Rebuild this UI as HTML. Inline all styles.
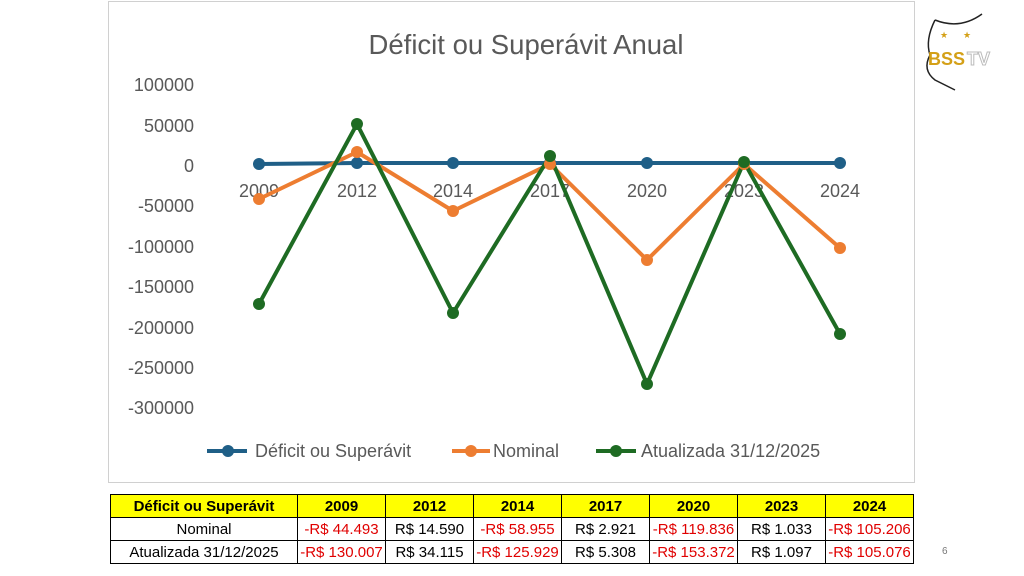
<!DOCTYPE html><html><head><meta charset="utf-8"><style>
body{margin:0;width:1024px;height:576px;background:#fff;position:relative;font-family:"Liberation Sans",sans-serif;overflow:hidden}
table{position:absolute;left:110px;top:494px;border-collapse:collapse;font-size:15px}
td{border:1.5px solid #000;text-align:center;padding:0;height:22px;white-space:nowrap}
.h td{background:#ffff00;font-weight:bold}
.r{color:#e00000}
</style></head><body>
<svg width="1024" height="576" style="position:absolute;left:0;top:0" font-family="Liberation Sans, sans-serif">
<rect x="108.5" y="1.5" width="806" height="481" fill="#fff" stroke="#d0d0d0"/>
<text x="526" y="54" font-size="27.5" fill="#595959" text-anchor="middle">Déficit ou Superávit Anual</text>
<g font-size="18" fill="#595959" text-anchor="end">
<text x="194" y="91">100000</text><text x="194" y="132">50000</text><text x="194" y="172">0</text>
<text x="194" y="212">-50000</text><text x="194" y="253">-100000</text><text x="194" y="293">-150000</text>
<text x="194" y="334">-200000</text><text x="194" y="374">-250000</text><text x="194" y="414">-300000</text></g>
<g font-size="18" fill="#595959" text-anchor="middle">
<text x="259" y="197">2009</text><text x="357" y="197">2012</text><text x="453" y="197">2014</text><text x="550" y="197">2017</text><text x="647" y="197">2020</text><text x="744" y="197">2023</text><text x="840" y="197">2024</text></g>
<g stroke-width="4" fill="none" stroke-linejoin="round">
<polyline stroke="#1f5f87" points="259,164 357,163 453,163 550,163 647,163 744,163 840,163"/>
<polyline stroke="#ed7d31" points="259,199 357,152 453,211 550,164 647,260 744,164 840,248"/>
<polyline stroke="#1e6b23" points="259,304 357,124 453,313 550,156 647,384 744,162 840,334"/>
</g>
<g fill="#1f5f87"><circle cx="259" cy="164" r="6"/><circle cx="357" cy="163" r="6"/><circle cx="453" cy="163" r="6"/><circle cx="550" cy="163" r="6"/><circle cx="647" cy="163" r="6"/><circle cx="744" cy="163" r="6"/><circle cx="840" cy="163" r="6"/></g>
<g fill="#ed7d31"><circle cx="259" cy="199" r="6"/><circle cx="357" cy="152" r="6"/><circle cx="453" cy="211" r="6"/><circle cx="550" cy="164" r="6"/><circle cx="647" cy="260" r="6"/><circle cx="744" cy="164" r="6"/><circle cx="840" cy="248" r="6"/></g>
<g fill="#1e6b23"><circle cx="259" cy="304" r="6"/><circle cx="357" cy="124" r="6"/><circle cx="453" cy="313" r="6"/><circle cx="550" cy="156" r="6"/><circle cx="647" cy="384" r="6"/><circle cx="744" cy="162" r="6"/><circle cx="840" cy="334" r="6"/></g>
<line x1="207" y1="451" x2="247" y2="451" stroke="#1f5f87" stroke-width="4"/><circle cx="228" cy="451" r="6" fill="#1f5f87"/>
<text x="255" y="457" font-size="18" fill="#595959">Déficit ou Superávit</text>
<line x1="452" y1="451" x2="490" y2="451" stroke="#ed7d31" stroke-width="4"/><circle cx="471" cy="451" r="6" fill="#ed7d31"/>
<text x="493" y="457" font-size="18" fill="#595959">Nominal</text>
<line x1="596" y1="451" x2="636" y2="451" stroke="#1e6b23" stroke-width="4"/><circle cx="616" cy="451" r="6" fill="#1e6b23"/>
<text x="641" y="457" font-size="18" fill="#595959">Atualizada 31/12/2025</text>
<path d="M935,20 Q960,30 982,14 M935,20 Q925,40 930,55 Q922,70 935,80 Q945,85 955,90" stroke="#222" stroke-width="1.5" fill="none"/>
<text x="940" y="38" font-size="9" fill="#d4a017">★</text><text x="963" y="38" font-size="9" fill="#d4a017">★</text>
<text x="928" y="65" font-size="18" font-weight="bold" fill="#d4a017">BSS</text>
<text x="967" y="65" font-size="18" font-weight="bold" fill="#fff" stroke="#bbb" stroke-width="1">TV</text>
<text x="942" y="554" font-size="10" fill="#777">6</text>
</svg>
<table>
<tr class="h"><td style="width:186px">Déficit ou Superávit</td><td style="width:87px">2009</td><td style="width:87px">2012</td><td style="width:87px">2014</td><td style="width:87px">2017</td><td style="width:87px">2020</td><td style="width:87px">2023</td><td style="width:87px">2024</td></tr>
<tr><td>Nominal</td><td class="r">-R$ 44.493</td><td>R$ 14.590</td><td class="r">-R$ 58.955</td><td>R$ 2.921</td><td class="r">-R$ 119.836</td><td>R$ 1.033</td><td class="r">-R$ 105.206</td></tr>
<tr><td>Atualizada 31/12/2025</td><td class="r">-R$ 130.007</td><td>R$ 34.115</td><td class="r">-R$ 125.929</td><td>R$ 5.308</td><td class="r">-R$ 153.372</td><td>R$ 1.097</td><td class="r">-R$ 105.076</td></tr>
</table>
</body></html>
